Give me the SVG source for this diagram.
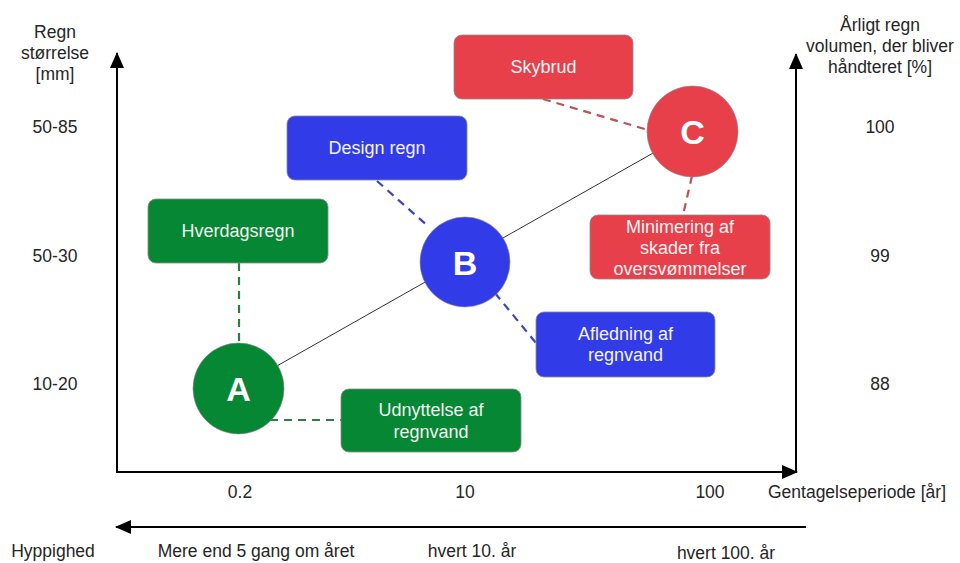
<svg xmlns="http://www.w3.org/2000/svg" width="960" height="563" viewBox="0 0 960 563">
<defs>
<marker id="ah" markerUnits="userSpaceOnUse" markerWidth="16" markerHeight="14" refX="15" refY="7" orient="auto">
<path d="M0,0 L16,7 L0,14 Z" fill="#000"/>
</marker>
<style>
.lbl{font-family:"Liberation Sans",Arial,sans-serif;font-size:17.5px;fill:#262626;text-anchor:middle}
.bt{font-family:"Liberation Sans",Arial,sans-serif;font-size:18px;fill:#f4f4f4;text-anchor:middle}
.ct{font-family:"Liberation Sans",Arial,sans-serif;font-size:34px;font-weight:bold;fill:#fff;text-anchor:middle}
.ax{stroke:#000;stroke-width:2;fill:none}
.g{fill:#068733}
.b{fill:#313ce8}
.r{fill:#e8404b}
.box{stroke:#8a8a8a;stroke-width:0.8}
.dg{stroke:#2e7d42;stroke-width:2.2;stroke-dasharray:8,6;fill:none}
.db{stroke:#3b45c4;stroke-width:2.2;stroke-dasharray:8,6;fill:none}
.dr{stroke:#c24f58;stroke-width:2.2;stroke-dasharray:8,6;fill:none}
</style>
</defs>
<rect width="960" height="563" fill="#fff"/>
<g id="axes">
<line class="ax" x1="117" y1="473" x2="117" y2="53" marker-end="url(#ah)"/>
<line class="ax" x1="116" y1="472" x2="797" y2="472" marker-end="url(#ah)"/>
<line class="ax" x1="796" y1="473" x2="796" y2="54" marker-end="url(#ah)"/>
<line class="ax" x1="806" y1="527" x2="116" y2="527" marker-end="url(#ah)"/>
</g>
<g id="labels">
<text class="lbl" x="55" y="38">Regn</text>
<text class="lbl" x="55" y="59">størrelse</text>
<text class="lbl" x="55" y="80">[mm]</text>
<text class="lbl" x="55" y="133">50-85</text>
<text class="lbl" x="55" y="262">50-30</text>
<text class="lbl" x="55" y="390">10-20</text>
<text class="lbl" x="880" y="31">Årligt regn</text>
<text class="lbl" x="880" y="52">volumen, der bliver</text>
<text class="lbl" x="880" y="73">håndteret [%]</text>
<text class="lbl" x="880" y="133">100</text>
<text class="lbl" x="880" y="262">99</text>
<text class="lbl" x="880" y="390">88</text>
<text class="lbl" x="240" y="498">0.2</text>
<text class="lbl" x="465" y="498">10</text>
<text class="lbl" x="710" y="498">100</text>
<text class="lbl" x="857" y="498">Gentagelseperiode [år]</text>
<text class="lbl" x="53" y="557">Hyppighed</text>
<text class="lbl" x="256" y="557">Mere end 5 gang om året</text>
<text class="lbl" x="472" y="557">hvert 10. år</text>
<text class="lbl" x="726" y="559">hvert 100. år</text>
</g>
<g id="connectors">
<line x1="238" y1="388" x2="692" y2="131" stroke="#333" stroke-width="1"/>
<line class="dg" x1="239" y1="263" x2="239" y2="343"/>
<line class="dg" x1="270" y1="420" x2="341" y2="420"/>
<line class="db" x1="377" y1="181" x2="429" y2="227"/>
<line class="db" x1="495" y1="293" x2="536" y2="343"/>
<line class="dr" x1="543" y1="99" x2="648" y2="130"/>
<line class="dr" x1="692" y1="176" x2="683" y2="215"/>
</g>
<g id="node-skybrud">
<rect class="r box" x="454" y="35" width="179" height="64" rx="8"/>
<text class="bt" x="543.5" y="73">Skybrud</text>
</g>
<g id="node-design">
<rect class="b box" x="287" y="116" width="180" height="64" rx="8"/>
<text class="bt" x="377" y="154">Design regn</text>
</g>
<g id="node-hverdag">
<rect class="g box" x="148" y="199" width="180" height="64" rx="8"/>
<text class="bt" x="238" y="237">Hverdagsregn</text>
</g>
<g id="node-minimering">
<rect class="r box" x="590" y="215" width="180" height="64" rx="8"/>
<text class="bt" x="680" y="233">Minimering af</text>
<text class="bt" x="680" y="254">skader fra</text>
<text class="bt" x="680" y="275">oversvømmelser</text>
</g>
<g id="node-afledning">
<rect class="b box" x="536" y="312" width="179" height="65" rx="8"/>
<text class="bt" x="625.5" y="340">Afledning af</text>
<text class="bt" x="625.5" y="361">regnvand</text>
</g>
<g id="node-udnyttelse">
<rect class="g box" x="341" y="389" width="180" height="63" rx="8"/>
<text class="bt" x="431" y="416">Udnyttelse af</text>
<text class="bt" x="431" y="438">regnvand</text>
</g>
<g id="node-A">
<circle class="g" cx="238.5" cy="388.5" r="45.5" stroke="#8a8a8a" stroke-width="0.6"/>
<text class="ct" x="238.5" y="401">A</text>
</g>
<g id="node-B">
<circle class="b" cx="465" cy="262" r="45" stroke="#8a8a8a" stroke-width="0.6"/>
<text class="ct" x="465" y="274.5">B</text>
</g>
<g id="node-C">
<circle class="r" cx="692.5" cy="131.5" r="45.5" stroke="#8a8a8a" stroke-width="0.6"/>
<text class="ct" x="692.5" y="144">C</text>
</g>
</svg>
